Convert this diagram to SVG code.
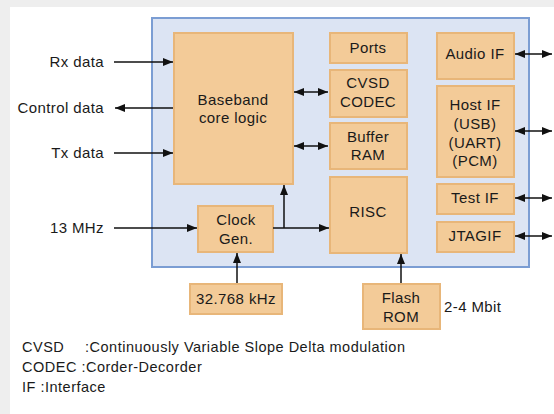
<svg xmlns="http://www.w3.org/2000/svg" width="554" height="414" viewBox="0 0 554 414">
<defs>
<style>
.bx{fill:#f3cb98;stroke:#e8b679;stroke-width:2}
.t{font-family:"Liberation Sans",Arial,sans-serif;font-size:15px;letter-spacing:0.4px;fill:#1a1a1a}
.m{text-anchor:middle}
.e{text-anchor:end}
.ln{stroke:#111;stroke-width:1.5;fill:none}
.lg{font-family:"Liberation Sans",Arial,sans-serif;font-size:14.5px;letter-spacing:0.5px;fill:#1a1a1a}
</style>
<marker id="ah" viewBox="0 0 10 8" refX="10" refY="4" markerWidth="10" markerHeight="8" markerUnits="userSpaceOnUse" orient="auto-start-reverse">
<path d="M0,0 L10,4 L0,8 z" fill="#111"/>
</marker>
</defs>
<rect x="0" y="0" width="554" height="414" fill="#eeeeee"/>
<rect x="10" y="7" width="544" height="407" fill="#ffffff"/>
<rect id="chip" x="152" y="18" width="377" height="249" fill="#dce4f3" stroke="#7b9dd3" stroke-width="2"/>

<g id="baseband"><rect class="bx" x="174" y="33" width="119" height="151"/><text class="t m" x="233" y="105">Baseband</text><text class="t m" x="233" y="123">core logic</text></g>
<g id="ports"><rect class="bx" x="330" y="33" width="77" height="30"/><text class="t m" x="368" y="53">Ports</text></g>
<g id="cvsd"><rect class="bx" x="330" y="70" width="77" height="47"/><text class="t m" x="368" y="88">CVSD</text><text class="t m" x="368" y="107">CODEC</text></g>
<g id="buffer"><rect class="bx" x="330" y="123" width="77" height="46"/><text class="t m" x="368" y="142">Buffer</text><text class="t m" x="368" y="160">RAM</text></g>
<g id="risc"><rect class="bx" x="330" y="177" width="77" height="76"/><text class="t m" x="368" y="217">RISC</text></g>
<g id="audio"><rect class="bx" x="437" y="33" width="77" height="46"/><text class="t m" x="475" y="59">Audio IF</text></g>
<g id="host"><rect class="bx" x="437" y="86" width="77" height="91"/><text class="t m" x="475" y="110">Host IF</text><text class="t m" x="475" y="129">(USB)</text><text class="t m" x="475" y="148">(UART)</text><text class="t m" x="475" y="166">(PCM)</text></g>
<g id="test"><rect class="bx" x="437" y="184" width="77" height="30"/><text class="t m" x="475" y="203">Test IF</text></g>
<g id="jtag"><rect class="bx" x="437" y="222" width="77" height="30"/><text class="t m" x="475" y="241">JTAGIF</text></g>
<g id="clock"><rect class="bx" x="198" y="206" width="75" height="46"/><text class="t m" x="236" y="225">Clock</text><text class="t m" x="236" y="244">Gen.</text></g>
<g id="xtal"><rect class="bx" x="190" y="284" width="92" height="30"/><text class="t m" x="236" y="304">32.768 kHz</text></g>
<g id="flash"><rect class="bx" x="363" y="284" width="77" height="45"/><text class="t m" x="401" y="303">Flash</text><text class="t m" x="401" y="322">ROM</text></g>

<g id="labels">
<text class="t e" x="104" y="67">Rx data</text>
<text class="t e" x="104" y="113">Control data</text>
<text class="t e" x="104" y="158">Tx data</text>
<text class="t e" x="104" y="233">13 MHz</text>
<text class="t" x="444" y="312">2-4 Mbit</text>
</g>

<g id="connectors">
<line class="ln" x1="114" y1="62" x2="173" y2="62" marker-end="url(#ah)"/>
<line class="ln" x1="173" y1="108" x2="115" y2="108" marker-end="url(#ah)"/>
<line class="ln" x1="114" y1="153" x2="173" y2="153" marker-end="url(#ah)"/>
<line class="ln" x1="114" y1="228" x2="197" y2="228" marker-end="url(#ah)"/>
<line class="ln" x1="273" y1="228" x2="329" y2="228" marker-end="url(#ah)"/>
<line class="ln" x1="284" y1="228" x2="284" y2="185" marker-end="url(#ah)"/>
<line class="ln" x1="237" y1="283" x2="237" y2="253" marker-end="url(#ah)"/>
<line class="ln" x1="401" y1="283" x2="401" y2="254" marker-end="url(#ah)"/>
<line class="ln" x1="294" y1="92" x2="328" y2="92" marker-start="url(#ah)" marker-end="url(#ah)"/>
<line class="ln" x1="294" y1="146" x2="328" y2="146" marker-start="url(#ah)" marker-end="url(#ah)"/>
<line class="ln" x1="515" y1="54" x2="552" y2="54" marker-start="url(#ah)" marker-end="url(#ah)"/>
<line class="ln" x1="515" y1="131" x2="552" y2="131" marker-start="url(#ah)" marker-end="url(#ah)"/>
<line class="ln" x1="515" y1="198" x2="552" y2="198" marker-start="url(#ah)" marker-end="url(#ah)"/>
<line class="ln" x1="515" y1="236" x2="552" y2="236" marker-start="url(#ah)" marker-end="url(#ah)"/>
</g>

<g id="legend">
<text class="lg" x="22" y="352">CVSD</text><text class="lg" x="85" y="352">:Continuously Variable Slope Delta modulation</text>
<text class="lg" x="22" y="372">CODEC :Corder-Decorder</text>
<text class="lg" x="22" y="392">IF :Interface</text>
</g>
</svg>
